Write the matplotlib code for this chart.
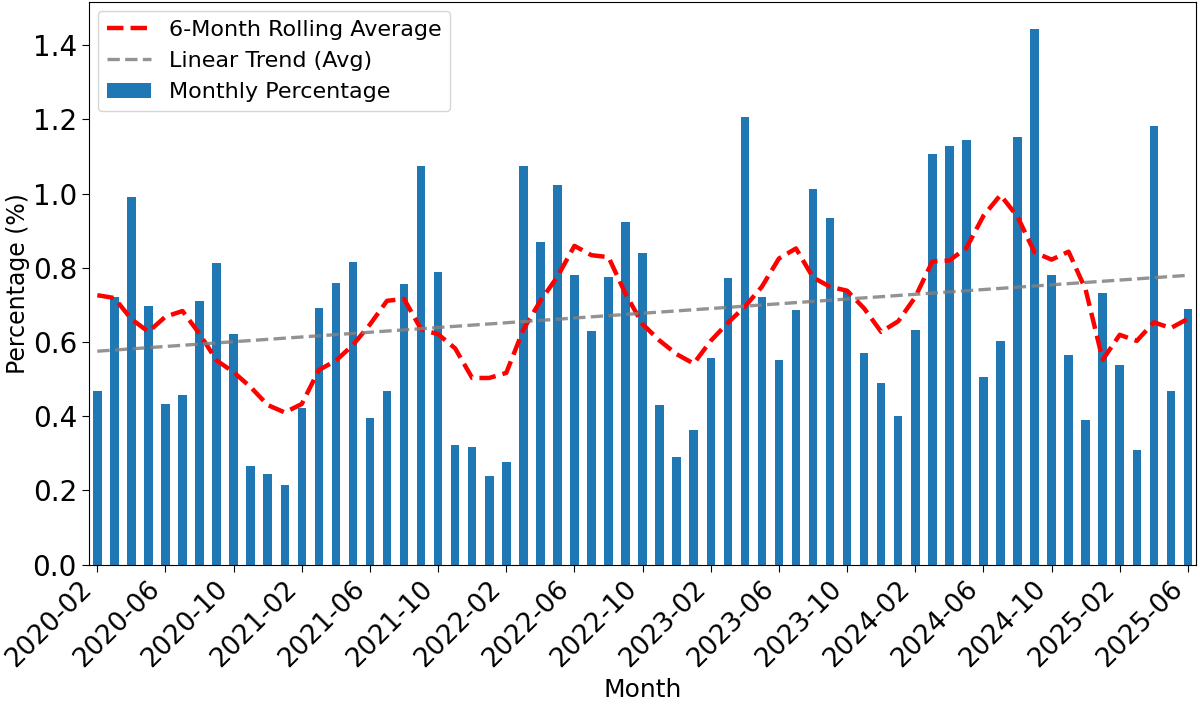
import numpy as np
import pandas as pd
import matplotlib.pyplot as plt

# monthly values, 2020-02 .. 2025-06
months = pd.period_range("2020-02", "2025-06", freq="M").strftime("%Y-%m").tolist()
monthly_pct = [0.468, 0.721, 0.990, 0.696, 0.434, 0.458, 0.712, 0.812, 0.621, 0.266,
               0.244, 0.216, 0.423, 0.692, 0.758, 0.815, 0.396, 0.468, 0.756, 1.074,
               0.789, 0.323, 0.317, 0.239, 0.277, 1.075, 0.871, 1.023, 0.781, 0.630,
               0.776, 0.924, 0.839, 0.430, 0.291, 0.363, 0.557, 0.772, 1.207, 0.721,
               0.552, 0.687, 1.012, 0.935, 0.738, 0.570, 0.489, 0.401, 0.632, 1.106,
               1.129, 1.144, 0.507, 0.602, 1.152, 1.444, 0.780, 0.566, 0.389, 0.731,
               0.538, 0.310, 1.183, 0.468, 0.690]

df = pd.DataFrame({"month": months, "pct": monthly_pct})
df["rolling"] = df["pct"].rolling(6, center=True, min_periods=1).mean()
x = np.arange(len(df))
slope, intercept = np.polyfit(x, df["rolling"], 1)
df["trend"] = slope * x + intercept

fig, ax = plt.subplots(figsize=(12, 7.05), dpi=100)
fig.subplots_adjust(left=0.074, right=0.997, bottom=0.199, top=0.997)

ax.bar(x, df["pct"], width=0.5, color="#1f77b4", label="Monthly Percentage")
ax.plot(x, df["rolling"], color="red", linestyle="--", linewidth=3.2, label="6-Month Rolling Average")
ax.plot(x, df["trend"], color="gray", linestyle="--", linewidth=2.4, alpha=0.85, label="Linear Trend (Avg)")

ax.set_xlim(-0.5, len(df) - 0.5)
ax.set_xticks(x[::4])
ax.set_xticklabels(df["month"][::4], rotation=45, ha="right", fontsize=19)
ax.tick_params(axis="y", labelsize=20)
ax.tick_params(length=5)
ax.set_xlabel("Month", fontsize=18, labelpad=4)
ax.set_ylabel("Percentage (%)", fontsize=17, labelpad=2)
ax.legend(loc="upper left", fontsize=16, borderaxespad=0.4)

plt.savefig("out.png")
